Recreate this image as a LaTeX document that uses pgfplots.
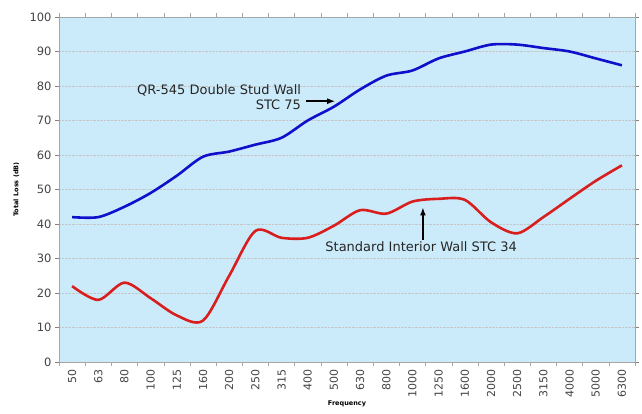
\documentclass[border=0pt]{standalone}
\usepackage{fontspec}
\setmainfont{DejaVu Sans}
\usepackage{pgfplots}
\pgfplotsset{compat=1.18}
\usetikzlibrary{arrows.meta}
\definecolor{bgblue}{HTML}{CCEBFA}
\definecolor{lblue}{HTML}{1010CC}
\definecolor{lred}{HTML}{D91E1E}
\definecolor{tickgray}{HTML}{444444}
\begin{document}
\begin{tikzpicture}[x=1pt,y=1pt]
\useasboundingbox (0,0) rectangle (642,413);
\begin{axis}[
  at={(59pt,51pt)}, anchor=south west,
  scale only axis, width=576pt, height=345pt,
  xmin=-0.5, xmax=21.5, ymin=0, ymax=100,
  xtick={0,...,21},
  xticklabels={50,63,80,100,125,160,200,250,315,400,500,630,800,1000,1250,1600,2000,2500,3150,4000,5000,6300},
  x tick label style={rotate=90, anchor=east, font=\fontsize{11}{12}\selectfont, text=tickgray},
  major x tick style={draw=none},
  minor xtick={-0.5,0.5,...,21.5},
  minor x tick style={draw=gray!70, thin},
  ytick={0,10,...,100},
  y tick label style={font=\fontsize{11.5}{12}\selectfont, text=tickgray},
  /pgf/number format/assume math mode=true,
  tick align=outside,
  major tick length=4pt, minor tick length=4pt,
  ymajorgrids, grid style={densely dotted, gray!45},
  axis background/.style={fill=bgblue},
  axis line style={gray!70},
  ylabel={\textbf{Total Loss (dB)}}, ylabel style={font=\fontsize{6.5}{7}\selectfont, at={(axis description cs:-0.063,0.5)}},
  xlabel={\textbf{Frequency}}, xlabel style={font=\fontsize{6.5}{7}\selectfont, at={(axis description cs:0.5,-0.113)}, anchor=north, inner sep=0pt},
  clip=false,
]
\addplot[lblue, line width=2.6pt, smooth, tension=0.5] coordinates {
(0,42) (1,42) (2,45) (3,49) (4,54) (5,59.5) (6,61) (7,63) (8,65) (9,70) (10,74) (11,79) (12,83) (13,84.5) (14,88) (15,90) (16,92) (17,92) (18,91) (19,90) (20,88) (21,86)};
\addplot[lred, line width=2.6pt, smooth, tension=0.5] coordinates {
(0,22) (1,18) (2,23) (3,18.5) (4,13.5) (5,12) (6,25) (7,38) (8,36) (9,36) (10,39.5) (11,44) (12,43) (13,46.5) (14,47.3) (15,47) (16,40.5) (17,37.3) (18,42) (19,47.3) (20,52.5) (21,57)};
\node[anchor=south east, align=right, font=\fontsize{13}{15}\selectfont, text=black!85, inner sep=0pt] at (axis cs:8.75,73) {QR-545 Double Stud Wall\\STC 75};
\draw[-{Latex[length=8pt,width=6pt]}, line width=1.5pt] (axis cs:8.95,75.6) -- (axis cs:10.05,75.6);
\node[anchor=north, font=\fontsize{13}{15}\selectfont, text=black!85, inner sep=0pt] at (axis cs:13.33,35) {Standard Interior Wall STC 34};
\draw[-{Latex[length=8pt,width=6pt]}, line width=1.5pt] (axis cs:13.4,35.5) -- (axis cs:13.4,44.8);
\end{axis}
\end{tikzpicture}
\end{document}
